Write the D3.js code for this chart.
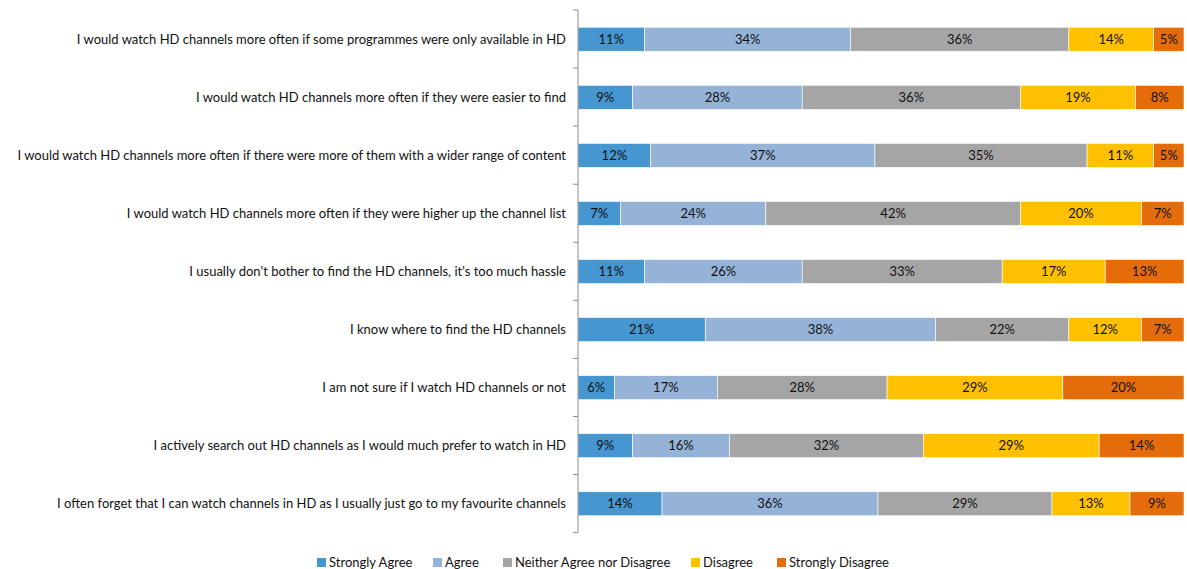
<!DOCTYPE html>
<html>
<head>
<meta charset="utf-8">
<script src="https://cdn.jsdelivr.net/npm/d3@7"></script>
<style>
  html, body { margin: 0; padding: 0; background: #fff; }
  svg text { font-family: Lato, "Open Sans", sans-serif; fill: #111; }
</style>
</head>
<body>
<svg id="chart" width="1187" height="569"></svg>
<script>
const statements = [
  "I would watch HD channels more often if some programmes were only available in HD",
  "I would watch HD channels more often if they were easier to find",
  "I would watch HD channels more often if there were more of them with a wider range of content",
  "I would watch HD channels more often if they were higher up the channel list",
  "I usually don't bother to find the HD channels, it's too much hassle",
  "I know where to find the HD channels",
  "I am not sure if I watch HD channels or not",
  "I actively search out HD channels as I would much prefer to watch in HD",
  "I often forget that I can watch channels in HD as I usually just go to my favourite channels"
];
const responses = ["Strongly Agree", "Agree", "Neither Agree nor Disagree", "Disagree", "Strongly Disagree"];
const stronglyAgree    = [11,  9, 12,  7, 11, 21,  6,  9, 14];
const agree            = [34, 28, 37, 24, 26, 38, 17, 16, 36];
const neither          = [36, 36, 35, 42, 33, 22, 28, 32, 29];
const disagree         = [14, 19, 11, 20, 17, 12, 29, 29, 13];
const stronglyDisagree = [ 5,  8,  5,  7, 13,  7, 20, 14,  9];
const colors = ["#4596D1", "#95B3D7", "#A5A5A5", "#FFC000", "#E46C0A"];

const series = [stronglyAgree, agree, neither, disagree, stronglyDisagree];
const rows = statements.map((s, i) => {
  const row = { statement: s };
  responses.forEach((r, k) => row[r] = series[k][i]);
  row.total = d3.sum(series, a => a[i]);
  return row;
});

const svg = d3.select("#chart");
const margin = { left: 578, right: 3, top: 10, bottom: 36 };
const W = 1187, H = 569;

const x = d3.scaleLinear().domain([0, 1]).range([margin.left, W - margin.right]);
const y = d3.scaleBand().domain(statements).range([margin.top, H - margin.bottom]).paddingInner(0.587).paddingOuter(0.297);

// 100% stacked: each row normalised to its own total
const stack = d3.stack().keys(responses)
  .value((d, key) => d[key] / d.total);
const layers = stack(rows);

const g = svg.append("g");
layers.forEach((layer, k) => {
  const lg = g.append("g");
  lg.selectAll("rect").data(layer).join("rect")
    .attr("x", d => x(d[0]))
    .attr("y", d => y(d.data.statement))
    .attr("width", d => x(d[1]) - x(d[0]))
    .attr("height", y.bandwidth())
    .attr("fill", colors[k])
    .attr("stroke", "#fff")
    .attr("stroke-width", 0.6);
  lg.selectAll("text").data(layer).join("text")
    .attr("x", d => (x(d[0]) + x(d[1])) / 2)
    .attr("y", d => y(d.data.statement) + y.bandwidth() / 2)
    .attr("dy", "0.35em")
    .attr("text-anchor", "middle")
    .style("font-size", "13px")
    .text(d => d.data[responses[k]] + "%");
});

// Category axis with tick marks at band boundaries
const axisX = margin.left;
const step = y.step();
const boundaries = d3.range(statements.length + 1).map(i => margin.top + i * step);
svg.append("line")
  .attr("x1", axisX).attr("x2", axisX)
  .attr("y1", boundaries[0]).attr("y2", boundaries[boundaries.length - 1])
  .attr("stroke", "#8c8c8c").attr("stroke-width", 1);
svg.selectAll(".tick").data(boundaries).join("line")
  .attr("x1", axisX - 5).attr("x2", axisX)
  .attr("y1", d => d).attr("y2", d => d)
  .attr("stroke", "#8c8c8c");
svg.selectAll(".cat").data(statements).join("text")
  .attr("x", axisX - 12)
  .attr("y", d => y(d) + y.bandwidth() / 2)
  .attr("dy", "0.35em")
  .attr("text-anchor", "end")
  .style("font-size", "13px")
  .text(d => d);

// Legend
const legendX = [317, 433, 503, 691, 777];
const lg = svg.append("g");
responses.forEach((r, k) => {
  lg.append("rect").attr("x", legendX[k]).attr("y", 558).attr("width", 9).attr("height", 9).attr("fill", colors[k]);
  lg.append("text").attr("x", legendX[k] + 12).attr("y", 562).attr("dy", "0.35em")
    .style("font-size", "13px").text(r);
});
</script>
</body>
</html>
